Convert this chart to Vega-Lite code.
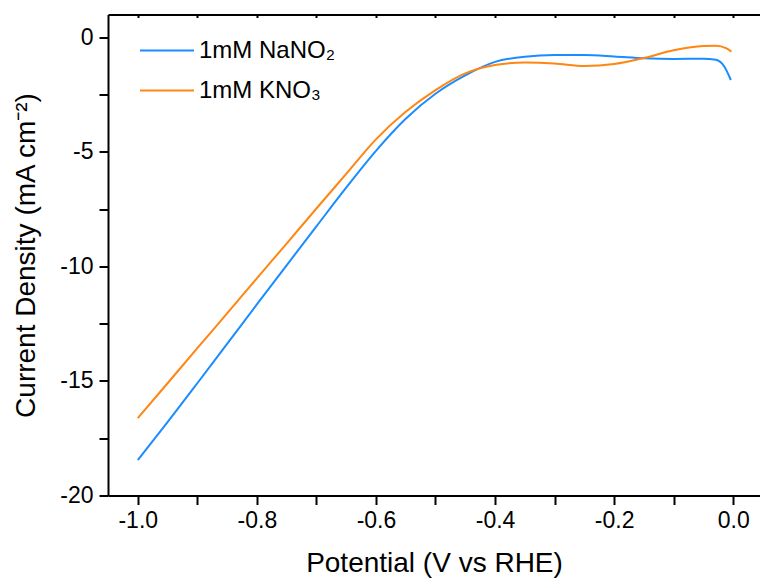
{
  "$schema": "https://vega.github.io/schema/vega-lite/v6.json",
  "width": 652,
  "height": 481,
  "autosize": "none",
  "padding": {"left": 108, "top": 14.5, "right": 0, "bottom": 82.5},
  "config": {
    "font": "Liberation Sans",
    "view": {"stroke": null},
    "axis": {
      "domainColor": "#000000", "domainWidth": 2, "tickColor": "#000000", "tickWidth": 2,
      "labelColor": "#000000", "titleColor": "#000000", "grid": false,
      "labelFont": "Liberation Sans", "titleFont": "Liberation Sans",
      "titleFontWeight": "normal", "labelFontSize": 23, "titleFontSize": 28
    }
  },
  "data": {
    "values": [
      {"potential": -1.0, "current": -18.45, "series": "1mM NaNO₂"},
      {"potential": -0.95, "current": -16.8, "series": "1mM NaNO₂"},
      {"potential": -0.9, "current": -15.1, "series": "1mM NaNO₂"},
      {"potential": -0.85, "current": -13.38, "series": "1mM NaNO₂"},
      {"potential": -0.8, "current": -11.66, "series": "1mM NaNO₂"},
      {"potential": -0.75, "current": -9.95, "series": "1mM NaNO₂"},
      {"potential": -0.7, "current": -8.25, "series": "1mM NaNO₂"},
      {"potential": -0.65, "current": -6.56, "series": "1mM NaNO₂"},
      {"potential": -0.6, "current": -4.95, "series": "1mM NaNO₂"},
      {"potential": -0.55, "current": -3.55, "series": "1mM NaNO₂"},
      {"potential": -0.5, "current": -2.46, "series": "1mM NaNO₂"},
      {"potential": -0.45, "current": -1.66, "series": "1mM NaNO₂"},
      {"potential": -0.4, "current": -1.07, "series": "1mM NaNO₂"},
      {"potential": -0.35, "current": -0.84, "series": "1mM NaNO₂"},
      {"potential": -0.3, "current": -0.77, "series": "1mM NaNO₂"},
      {"potential": -0.25, "current": -0.77, "series": "1mM NaNO₂"},
      {"potential": -0.2, "current": -0.83, "series": "1mM NaNO₂"},
      {"potential": -0.15, "current": -0.91, "series": "1mM NaNO₂"},
      {"potential": -0.1, "current": -0.94, "series": "1mM NaNO₂"},
      {"potential": -0.05, "current": -0.93, "series": "1mM NaNO₂"},
      {"potential": -0.029, "current": -0.98, "series": "1mM NaNO₂"},
      {"potential": -0.015, "current": -1.27, "series": "1mM NaNO₂"},
      {"potential": -0.004, "current": -1.86, "series": "1mM NaNO₂"},
      {"potential": -1.0, "current": -16.62, "series": "1mM KNO₃"},
      {"potential": -0.95, "current": -15.1, "series": "1mM KNO₃"},
      {"potential": -0.9, "current": -13.57, "series": "1mM KNO₃"},
      {"potential": -0.85, "current": -12.05, "series": "1mM KNO₃"},
      {"potential": -0.8, "current": -10.52, "series": "1mM KNO₃"},
      {"potential": -0.75, "current": -9.0, "series": "1mM KNO₃"},
      {"potential": -0.7, "current": -7.47, "series": "1mM KNO₃"},
      {"potential": -0.65, "current": -5.96, "series": "1mM KNO₃"},
      {"potential": -0.6, "current": -4.45, "series": "1mM KNO₃"},
      {"potential": -0.55, "current": -3.25, "series": "1mM KNO₃"},
      {"potential": -0.5, "current": -2.3, "series": "1mM KNO₃"},
      {"potential": -0.45, "current": -1.57, "series": "1mM KNO₃"},
      {"potential": -0.4, "current": -1.2, "series": "1mM KNO₃"},
      {"potential": -0.35, "current": -1.1, "series": "1mM KNO₃"},
      {"potential": -0.3, "current": -1.14, "series": "1mM KNO₃"},
      {"potential": -0.25, "current": -1.25, "series": "1mM KNO₃"},
      {"potential": -0.2, "current": -1.16, "series": "1mM KNO₃"},
      {"potential": -0.15, "current": -0.9, "series": "1mM KNO₃"},
      {"potential": -0.1, "current": -0.56, "series": "1mM KNO₃"},
      {"potential": -0.05, "current": -0.37, "series": "1mM KNO₃"},
      {"potential": -0.029, "current": -0.36, "series": "1mM KNO₃"},
      {"potential": -0.012, "current": -0.47, "series": "1mM KNO₃"},
      {"potential": -0.003, "current": -0.62, "series": "1mM KNO₃"}
    ]
  },
  "layer": [
    {
      "mark": {"type": "line", "strokeWidth": 2, "interpolate": "monotone"},
      "encoding": {
        "x": {
          "field": "potential", "type": "quantitative",
          "scale": {"domain": [-1.05, 0.045], "nice": false, "zero": false},
          "axis": {
            "orient": "bottom",
            "values": [-1.0, -0.9, -0.8, -0.7, -0.6, -0.5, -0.4, -0.3, -0.2, -0.1, 0.0],
            "labelExpr": "abs(round(datum.value * 10)) % 2 == 0 ? replace(format(datum.value, '.1f'), '−', '-') : ''",
            "tickSize": 9, "labelPadding": 5,
            "title": "Potential (V vs RHE)", "titlePadding": 17
          }
        },
        "y": {
          "field": "current", "type": "quantitative",
          "scale": {"domain": [-20, 1], "nice": false, "zero": false},
          "axis": {
            "values": [-20, -17.5, -15, -12.5, -10, -7.5, -5, -2.5, 0],
            "labelExpr": "datum.value % 5 == 0 ? replace(format(datum.value, 'd'), '−', '-') : ''",
            "tickSize": 9, "labelPadding": 6,
            "title": "Current Density (mA cm⁻²)", "titlePadding": 19
          }
        },
        "color": {
          "field": "series", "type": "nominal",
          "scale": {"domain": ["1mM NaNO₂", "1mM KNO₃"], "range": ["#1a8cff", "#ff8612"]},
          "sort": ["1mM NaNO₂", "1mM KNO₃"],
          "legend": {
            "orient": "none", "legendX": 31, "legendY": 8, "title": null,
            "symbolType": "stroke", "symbolSize": 2916, "symbolStrokeWidth": 2,
            "labelFontSize": 24, "labelColor": "#000000", "labelFont": "Liberation Sans",
            "labelOffset": 4, "rowPadding": -7, "padding": 0
          }
        }
      }
    },
    {
      "mark": {"type": "line", "opacity": 0},
      "encoding": {
        "x": {
          "field": "potential", "type": "quantitative",
          "axis": {
            "orient": "top", "labels": false, "title": null, "tickSize": -3,
            "values": [-1.0, -0.9, -0.8, -0.7, -0.6, -0.5, -0.4, -0.3, -0.2, -0.1, 0.0]
          }
        },
        "y": {"field": "current", "type": "quantitative"}
      }
    }
  ],
  "resolve": {"axis": {"x": "independent"}}
}
